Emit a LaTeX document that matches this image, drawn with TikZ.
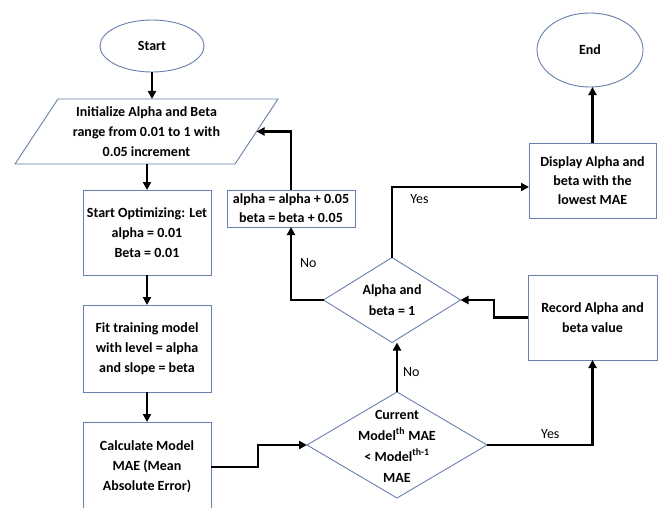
\documentclass[tikz,border=0pt]{standalone}
\usepackage{fontspec}
\setmainfont{Carlito}
\usetikzlibrary{shapes.geometric,arrows.meta}
\definecolor{edgeblue}{RGB}{104,128,172}

\tikzset{
  shapebase/.style={draw=edgeblue, line width=0.9pt, fill=white, inner sep=0pt, outer sep=0pt,
    font=\fontsize{14}{20}\selectfont\bfseries, align=center},
  terminal/.style={shapebase, ellipse},
  procbox/.style={shapebase, rectangle},
  iobox/.style={shapebase, trapezium, trapezium left angle=49.3, trapezium right angle=130.7,
    trapezium stretches body=true},
  decision/.style={shapebase, diamond},
  dtext/.style={inner sep=0pt, font=\fontsize{14}{21}\selectfont\bfseries, align=center},
  flow/.style={line width=2.4pt, -{Triangle[length=8pt,width=8pt]}},
  branch/.style={font=\fontsize{14}{16}\selectfont, inner sep=0pt}
}

\begin{document}
\begin{tikzpicture}[x=1pt, y=-1pt]
\clip (0,0) rectangle (664,507);
\fill[white] (0,0) rectangle (664,507);

% terminals
\node[terminal, minimum width=104, minimum height=52] (start) at (152,46) {Start};
\node[terminal, minimum width=106, minimum height=74] (stop) at (590,50) {End};

% left column
\node[iobox, minimum width=263, minimum height=65] (init) at (146.5,131.5)
  {Initialize Alpha and Beta\\range from 0.01 to 1 with\\0.05 increment};
\node[procbox, minimum width=128, minimum height=85] (opt) at (147,232.5)
  {Start Optimizing: Let\\alpha = 0.01\\Beta = 0.01};
\node[procbox, minimum width=128, minimum height=87] (fit) at (147,348.5)
  {Fit training model\\with level = alpha\\and slope = beta};
\node[procbox, minimum width=128, minimum height=90] (calc) at (147,467)
  {Calculate Model\\MAE (Mean\\Absolute Error)};

% increment step
\node[procbox, minimum width=128, minimum height=37, font=\fontsize{14}{19}\selectfont\bfseries] (inc) at (291,208.5)
  {alpha = alpha + 0.05\\beta = beta + 0.05};

% decisions
\node[decision, minimum width=180, minimum height=106] (cmp) at (397,445) {};
\node[dtext] (cmptext) at (397,446)
  {Current\\Model\textsuperscript{th} MAE\\< Model\textsuperscript{th-1}\\MAE};
\node[decision, minimum width=137, minimum height=85] (ab) at (392,300) {};
\node[dtext, font=\fontsize{14}{21}\selectfont\bfseries] (abtext) at (392,300) {Alpha and\\beta = 1};

% right column
\node[procbox, minimum width=129, minimum height=85] (rec) at (592.5,317.5)
  {Record Alpha and\\beta value};
\node[procbox, minimum width=127, minimum height=75, font=\fontsize{14}{19}\selectfont\bfseries] (disp) at (592.5,180.5)
  {Display Alpha and\\beta with the\\lowest MAE};

% connectors
\draw[flow] (start.south) -- (start.south |- init.north);
\draw[flow] (opt.north |- init.south) -- (opt.north);
\draw[flow] (opt.south) -- (fit.north);
\draw[flow] (fit.south) -- (calc.north);
\draw[flow] (calc.east) -- ++(47,0) |- (cmp.west);
\draw[flow] (cmp.north) -- (cmp.north |- ab.south)
  node[branch, pos=0.4, right=5pt] (lno) {No};
\draw[flow] (cmp.east) -| (rec.south)
  node[branch, pos=0.3, above=5pt] (lyes) {Yes};
\draw[flow] (rec.west) -- ++(-34,0) |- (ab.east);
\draw[flow] (ab.west) -| (inc.south)
  node[branch, pos=0.75, right=8pt] (lno2) {No};
\draw[flow] (inc.north) |- (init.east);
\draw[flow] (ab.north) |- ([yshift=-6.5pt]disp.west)
  node[branch, pos=0.6, below=6pt] (lyes2) {Yes};
\draw[flow] (disp.north) -- (disp.north |- stop.south);
\end{tikzpicture}
\end{document}
